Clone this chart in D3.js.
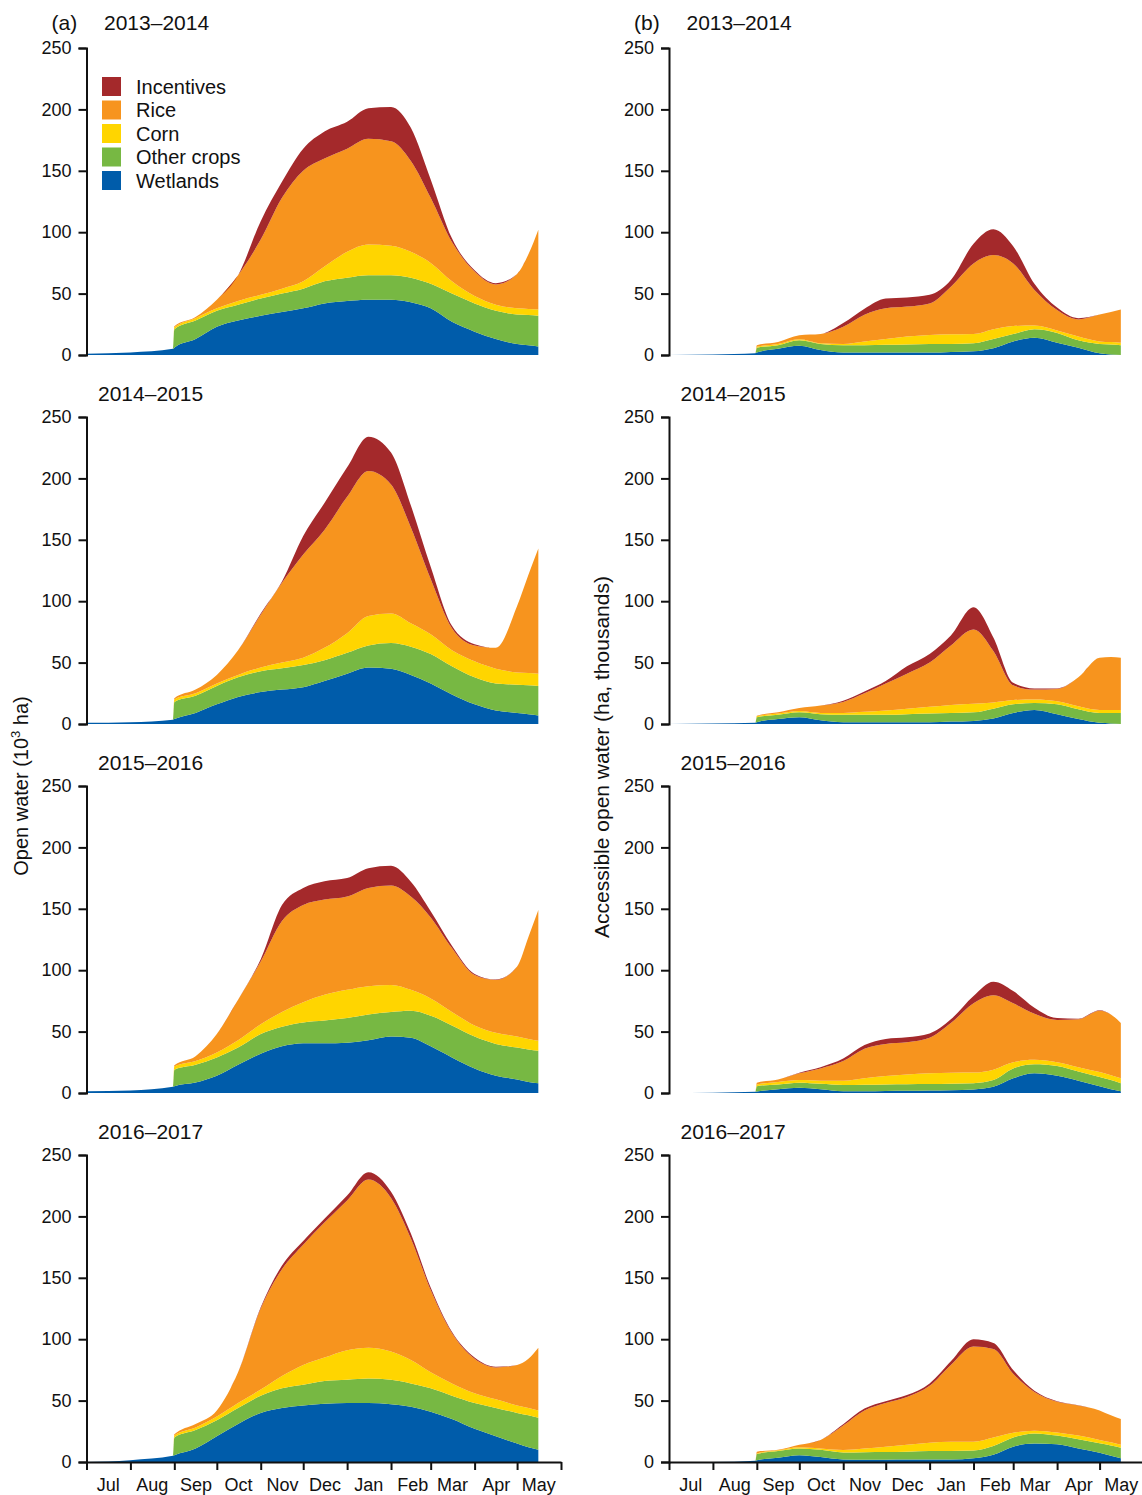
<!DOCTYPE html>
<html>
<head>
<meta charset="utf-8">
<script src="https://cdn.jsdelivr.net/npm/d3@7"></script>
<style>
  body { margin: 0; background: #fff; }
  svg { font-family: "Liberation Sans", Arial, sans-serif; }
  .tick line, .domain { stroke: #111; stroke-width: 2; }
  .tick text { fill: #111; }
</style>
</head>
<body>
<script>
// days since 1 July of each season
var days = [0, 31, 61, 62, 77, 92, 107, 123, 138, 153, 168, 184, 199, 215, 229, 243, 258, 274, 289, 304, 312, 319]

var keys = ["wetlands", "other", "corn", "rice", "incentives"]
var keyLabels = ["Wetlands", "Other crops", "Corn", "Rice", "Incentives"]
var keyColors = ["#005caa", "#77b843", "#ffd500", "#f7941e", "#a4292b"]
var seasons = ["2013\u20132014", "2014\u20132015", "2015\u20132016", "2016\u20132017"]
var yTicks = [0, 50, 100, 150, 200, 250]

// (a) open water, 10^3 ha
var a13_wetlands = [1, 2, 5, 6, 13, 23, 28, 32, 35, 38, 42, 44, 45, 45, 43, 38, 27, 19, 13, 9, 8, 7]
var a13_other = [0, 0, 0, 15, 15, 13, 13, 14, 15, 16, 18, 19, 20, 20, 20, 20, 23, 23, 23, 24, 24.5, 25]
var a13_corn = [0, 0, 0, 1.5, 2, 2, 3, 3, 4, 6, 12, 21, 25, 24, 21, 17, 10, 6, 5, 5, 5, 5]
var a13_rice = [0, 0, 0, 1, 1, 7, 21, 45, 74, 90, 88, 84, 86, 85, 74, 53, 32, 20, 16.5, 28, 44.5, 65]
var a13_incentives = [0, 0, 0, 0, 0, 0, 0, 15, 13, 18, 22, 22, 25, 28, 27, 15, 3, 1, 1, 0, 0, 0]

var a14_wetlands = [1, 1.5, 3.5, 4, 9, 16, 22, 26, 28, 30, 35, 41, 46, 45, 40, 33, 24, 16, 11, 9, 8, 7]
var a14_other = [0, 0, 0, 14, 14, 15, 16, 17, 17.5, 18, 17, 17, 18, 21, 23, 24, 23, 22, 22, 23, 23.5, 24]
var a14_corn = [0, 0, 0, 2, 2, 2, 2, 3, 4.5, 6, 10, 16, 24, 24, 19, 16, 13, 13, 12, 10, 10, 10]
var a14_rice = [0, 0, 0, 1, 3, 7, 20, 43, 65, 84, 96, 111, 118, 105, 78, 45, 18, 13, 17, 54, 80, 102]
var a14_incentives = [0, 0, 0, 0, 0, 0, 0, 1, 1, 15, 22, 24, 28, 26, 18, 10, 2, 1, 0, 0, 0, 0]

var a15_wetlands = [1.5, 2, 5, 5.5, 8.5, 14, 23, 32, 38, 40.5, 40.5, 41, 43, 46, 45, 38, 29, 20, 14, 11, 9, 8]
var a15_other = [0, 0, 0, 13.5, 14.5, 15, 14, 16, 16, 17, 18.5, 20, 21, 20, 22, 25, 26, 26, 26, 26, 26.5, 26.5]
var a15_corn = [0, 0, 0, 2.5, 3, 4, 6, 8, 12, 16.5, 21, 23, 23, 22, 17, 14, 11, 9, 9, 9, 8.5, 8]
var a15_rice = [0, 0, 0, 1, 4, 15, 33, 51, 74, 79, 77.5, 76, 80, 81, 76, 66, 52, 41, 43, 57, 83, 106.5]
var a15_incentives = [0, 0, 0, 0, 0, 0, 0, 2, 13, 14, 15, 15, 16, 16, 12, 5, 2, 1, 0.5, 0, 0, 0]

var a16_wetlands = [0, 1.5, 5, 5.5, 11, 21, 31, 40, 44, 46, 47.5, 48, 48, 47, 45, 41, 35, 27, 21, 15, 12, 10]
var a16_other = [0, 0, 0, 14.5, 15, 13, 13, 14, 16, 17, 18.5, 19, 20, 20, 19, 19, 19, 21, 23, 25, 26, 26]
var a16_corn = [0, 0, 0, 1.5, 2, 3, 4, 5, 10, 16, 19, 24, 25, 23, 19, 13, 10, 8, 7, 6, 6, 6]
var a16_rice = [0, 0, 0, 1, 3, 5, 25, 66, 87, 98, 110, 122, 137, 125, 99, 67, 41, 28, 26, 33, 40, 51]
var a16_incentives = [0, 0, 0, 0, 0, 0, 0, 1, 3, 3, 3, 4, 6, 5, 4, 2, 1, 1, 0.5, 0, 0, 0]

// (b) accessible open water, ha thousands
var b13_wetlands = [0, 0.5, 1.5, 2, 5, 7.5, 4, 2, 2, 2, 2, 2, 2.5, 3, 5.5, 11, 14, 10, 6, 1.5, 0.5, 0]
var b13_other = [0, 0, 0, 4, 3, 4.5, 5, 6, 6, 6.3, 6.5, 7, 6.5, 6.5, 7.5, 6, 7, 8, 6, 7.5, 8, 8]
var b13_corn = [0, 0, 0, 0.8, 1, 0.8, 0.5, 1, 3, 4.7, 6.5, 7.3, 7.8, 7.5, 8, 6.6, 3, 2, 3, 2, 2, 2]
var b13_rice = [0, 0, 0, 1.2, 1.5, 3.2, 7.5, 14, 21.7, 25, 24.4, 25.7, 38.8, 57.6, 60.4, 51, 29, 16.6, 14, 22, 24.5, 27]
var b13_incentives = [0, 0, 0, 0, 0, 0, 0, 3, 5, 8, 7.5, 7, 5.5, 16, 21, 14, 5, 2, 1, 0, 0, 0]

var b14_wetlands = [0, 0.5, 1, 1.5, 4, 5.5, 3, 1.5, 1.5, 1.5, 1.5, 1.5, 2, 2.5, 4.5, 9, 11.5, 8, 4, 1, 0.5, 0]
var b14_other = [0, 0, 0, 4, 3.5, 4, 5, 6, 6, 6, 6.5, 7, 7, 7, 8, 7, 5.5, 8, 8, 8, 8.5, 9]
var b14_corn = [0, 0, 0, 0.8, 1, 1, 1, 1.5, 2.5, 3.5, 4.5, 5.5, 6.5, 7, 5, 3.5, 3, 2.5, 2.5, 2.5, 2.5, 2.5]
var b14_rice = [0, 0, 0, 0.5, 1, 2.5, 6, 9, 15, 22, 28.5, 36, 48.5, 60.5, 42, 12, 8, 10, 23.5, 42.5, 43, 42.5]
var b14_incentives = [0, 0, 0, 0, 0, 0, 0, 1, 1.5, 2, 6, 7, 8, 18, 11, 2, 1, 0.5, 0, 0, 0, 0]

var b15_wetlands = [0, 0.3, 1, 1.2, 3, 4.3, 3, 1.5, 1.5, 1.7, 1.8, 2, 2.2, 2.8, 5, 12, 16, 14, 10, 5.5, 3, 1.5]
var b15_other = [0, 0, 0, 4.3, 4, 4.1, 4.5, 5, 5.2, 5.3, 5.4, 5.3, 5.4, 5.2, 5.6, 8, 7.5, 8, 7.5, 7.5, 7.5, 6.5]
var b15_corn = [0, 0, 0, 1.5, 2, 2.2, 2.5, 3.5, 5.3, 6.8, 7.8, 8.7, 8.9, 8.6, 8.4, 5, 3.5, 3, 3.5, 4, 4, 4]
var b15_rice = [0, 0, 0, 1.4, 2, 5.4, 10, 16, 24, 26.2, 26.3, 29, 40.5, 56.4, 60.5, 48, 37.5, 34.5, 39, 50, 49.5, 45]
var b15_incentives = [0, 0, 0, 0, 0, 0.5, 1, 2, 3, 4, 4, 3.5, 3, 6, 11, 10, 5, 1.5, 0.5, 0.3, 0, 0]

var b16_wetlands = [0, 0, 1, 1.5, 3.5, 5.5, 4, 2, 1.8, 1.8, 2, 2, 2, 3, 6, 12.5, 15, 14.5, 11, 7.5, 5, 3]
var b16_other = [0, 0, 0, 5, 5.5, 5.5, 6, 5.8, 6.2, 6.3, 6.4, 7, 7, 6.3, 7, 7.5, 8.3, 7, 7.5, 7.7, 8.5, 8.7]
var b16_corn = [0, 0, 0, 0.5, 0.5, 1, 1, 2, 3, 4.4, 5.6, 6.7, 7.5, 7.2, 7, 3.9, 2.2, 2.5, 3, 2.8, 2.5, 2.3]
var b16_rice = [0, 0, 0, 1.4, 0.5, 2, 7, 20, 31, 35.5, 39, 46.3, 62.5, 77.5, 72, 48, 31.5, 25, 24.5, 24, 22, 21]
var b16_incentives = [0, 0, 0, 0, 0, 0, 0, 1, 1.5, 1.5, 1.5, 2, 3, 6, 5, 3, 1, 0.5, 0.3, 0, 0, 0]

var panels = [
  { col: 0, row: 0, series: [a13_wetlands, a13_other, a13_corn, a13_rice, a13_incentives] },
  { col: 0, row: 1, series: [a14_wetlands, a14_other, a14_corn, a14_rice, a14_incentives] },
  { col: 0, row: 2, series: [a15_wetlands, a15_other, a15_corn, a15_rice, a15_incentives] },
  { col: 0, row: 3, series: [a16_wetlands, a16_other, a16_corn, a16_rice, a16_incentives] },
  { col: 1, row: 0, series: [b13_wetlands, b13_other, b13_corn, b13_rice, b13_incentives] },
  { col: 1, row: 1, series: [b14_wetlands, b14_other, b14_corn, b14_rice, b14_incentives] },
  { col: 1, row: 2, series: [b15_wetlands, b15_other, b15_corn, b15_rice, b15_incentives] },
  { col: 1, row: 3, series: [b16_wetlands, b16_other, b16_corn, b16_rice, b16_incentives] }
]

var W = 1142, H = 1495
var colLeft = [86.5, 669]
var plotW = 474.5
var rowTop = 48, plotH = 307, rowGap = 369

var start = new Date(2013, 6, 1), end = new Date(2014, 5, 1)
var dates = days.map(function (d) { return d3.timeDay.offset(start, d) })
var months = d3.timeMonth.range(start, d3.timeDay.offset(end, 1))
var midMonths = d3.timeMonth.range(start, end).map(function (m) { return d3.timeDay.offset(m, 15) })

var svg = d3.select("body").append("svg")
  .attr("width", W)
  .attr("height", H)

var stack = d3.stack().keys(keys)

panels.forEach(function (p) {
  var x = d3.scaleTime().domain([start, end]).range([colLeft[p.col], colLeft[p.col] + plotW])
  var y0 = rowTop + p.row * rowGap
  var y = d3.scaleLinear().domain([0, 250]).range([y0 + plotH, y0])

  var rows = days.map(function (d, i) {
    var r = { date: dates[i] }
    keys.forEach(function (k, j) { r[k] = p.series[j][i] })
    return r
  })

  var area = d3.area()
    .x(function (d) { return x(d.data.date) })
    .y0(function (d) { return y(d[0]) })
    .y1(function (d) { return y(d[1]) })
    .curve(d3.curveMonotoneX)

  var g = svg.append("g")

  g.selectAll("path.layer")
    .data(stack(rows))
    .enter()
    .append("path")
    .attr("class", "layer")
    .attr("d", area)
    .attr("fill", function (d, i) { return keyColors[i] })

  g.append("g")
    .attr("transform", "translate(" + colLeft[p.col] + ",0)")
    .call(d3.axisLeft(y).tickValues(yTicks).tickSize(8).tickPadding(7))
    .call(function (a) { a.selectAll("text").attr("font-size", 18).attr("font-family", null) })

  if (p.row === 3) {
    g.append("g")
      .attr("transform", "translate(0," + y(0) + ")")
      .call(d3.axisBottom(x).tickValues(months).tickSize(8).tickSizeOuter(0).tickFormat(""))
    g.append("g")
      .attr("transform", "translate(0," + y(0) + ")")
      .call(d3.axisBottom(x).tickValues(midMonths).tickSize(0).tickPadding(16).tickFormat(d3.timeFormat("%b")))
      .call(function (a) {
        a.select(".domain").remove()
        a.selectAll("text").attr("font-size", 18).attr("font-family", null)
      })
  }

  var tx = colLeft[p.col] + (p.row === 0 ? 17.5 : 11.5)
  g.append("text")
    .attr("x", tx)
    .attr("y", 30 + p.row * rowGap + (p.row > 0 ? 2 : 0))
    .attr("font-size", 21)
    .attr("fill", "#111")
    .text(seasons[p.row])

  if (p.row === 0) {
    g.append("text")
      .attr("x", colLeft[p.col] - 35)
      .attr("y", 30)
      .attr("font-size", 21)
      .attr("fill", "#111")
      .text(p.col === 0 ? "(a)" : "(b)")
  }
})

// legend in the first panel
var legend = svg.append("g")
  .selectAll("g")
  .data(d3.range(keys.length).reverse())
  .enter()
  .append("g")
  .attr("transform", function (d, i) { return "translate(102," + (77 + i * 23.5) + ")" })

legend.append("rect")
  .attr("width", 19)
  .attr("height", 19)
  .attr("fill", function (d) { return keyColors[d] })

legend.append("text")
  .attr("x", 34)
  .attr("y", 16.5)
  .attr("font-size", 20)
  .attr("fill", "#111")
  .text(function (d) { return keyLabels[d] })

// axis titles
var t1 = svg.append("text")
  .attr("transform", "translate(28,786) rotate(-90)")
  .attr("text-anchor", "middle")
  .attr("font-size", 20)
  .attr("fill", "#111")
t1.append("tspan").text("Open water (10")
t1.append("tspan").attr("font-size", 13).attr("dy", -8).text("3")
t1.append("tspan").attr("dy", 8).text(" ha)")

svg.append("text")
  .attr("transform", "translate(609,757) rotate(-90)")
  .attr("text-anchor", "middle")
  .attr("font-size", 21)
  .attr("fill", "#111")
  .text("Accessible open water (ha, thousands)")
</script>
</body>
</html>
